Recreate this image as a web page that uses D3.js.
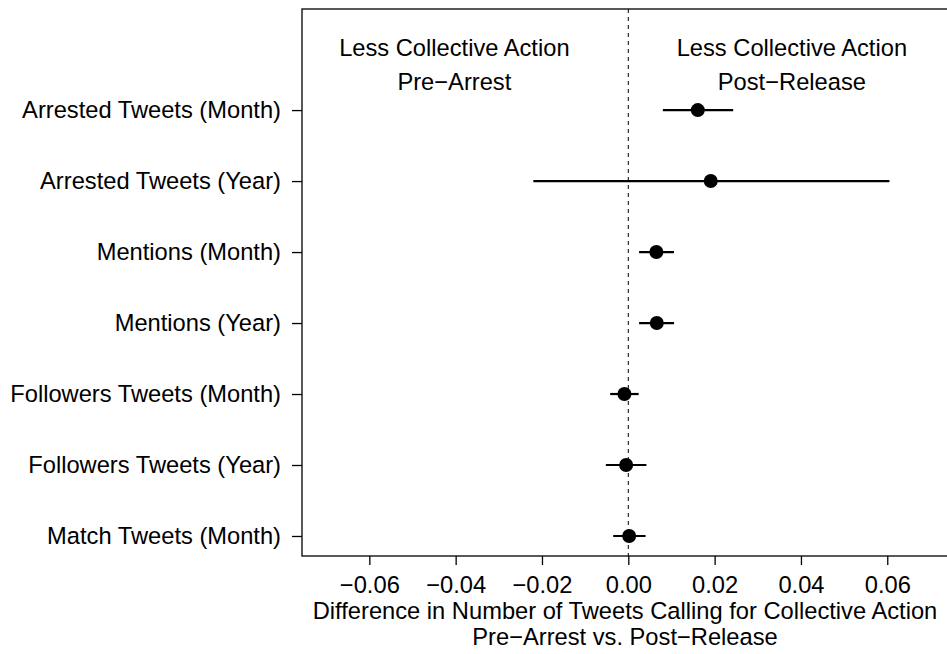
<!DOCTYPE html>
<html>
<head>
<meta charset="utf-8">
<script src="https://cdn.jsdelivr.net/npm/d3@7/dist/d3.min.js"></script>
<style>
  html, body { margin: 0; padding: 0; background: #fff; }
  svg { display: block; font-family: "Liberation Sans", Arial, Helvetica, sans-serif; }
</style>
</head>
<body>
<script>
const categories = [
  "Arrested Tweets (Month)",
  "Arrested Tweets (Year)",
  "Mentions (Month)",
  "Mentions (Year)",
  "Followers Tweets (Month)",
  "Followers Tweets (Year)",
  "Match Tweets (Month)"
];
const estimates = [0.0161, 0.0191, 0.0065, 0.0066, -0.0009, -0.0005, 0.0002];
const lower     = [0.0080, -0.0220, 0.0025, 0.0025, -0.0042, -0.0052, -0.0035];
const upper     = [0.0243, 0.0605, 0.0106, 0.0106, 0.0024, 0.0042, 0.0040];
const xTicks = [-0.06, -0.04, -0.02, 0.00, 0.02, 0.04, 0.06];
const xDomain = [-0.0756, 0.0756];
const yDomain = [-1.424, 6.282];
const annotations = [
  { x: -0.0403, lines: ["Less Collective Action", "Pre\u2212Arrest"] },
  { x: 0.0379, lines: ["Less Collective Action", "Post\u2212Release"] }
];
const xTitle = ["Difference in Number of Tweets Calling for Collective Action",
                "Pre\u2212Arrest vs. Post\u2212Release"];

(function () {
const W = 947, H = 654;
const pLeft = 302, pTop = 9, pBottom = 556;
const pRight = 954.6;
const fs = 23.7;

const svg = d3.select("body").append("svg").attr("width", W).attr("height", H);

const x = d3.scaleLinear().domain(xDomain).range([pLeft, pRight]);
const y = d3.scaleLinear().domain(yDomain).range([pTop, pBottom]);
const idx = categories.map((c, i) => i);

// box
svg.append("rect").attr("x", pLeft).attr("y", pTop)
  .attr("width", pRight - pLeft).attr("height", pBottom - pTop)
  .attr("fill", "none").attr("stroke", "#000").attr("stroke-width", 1.3);

// x axis
const xAxis = d3.axisBottom(x).tickValues(xTicks).tickSize(9).tickPadding(11)
  .tickFormat(d3.format(".2f"));
const gx = svg.append("g").attr("transform", `translate(0,${pBottom})`).call(xAxis);
gx.select(".domain").remove();
gx.selectAll(".tick line").attr("stroke", "#000").attr("stroke-width", 1.3);
gx.selectAll(".tick text").attr("font-size", fs).attr("font-family", null)
  .attr("fill", "#000").attr("dy", "0.71em");

// y axis
const yAxis = d3.axisLeft(y).tickValues(idx).tickFormat(i => categories[i])
  .tickSize(10).tickPadding(11);
const gy = svg.append("g").attr("transform", `translate(${pLeft},0)`).call(yAxis);
gy.select(".domain").remove();
gy.selectAll(".tick line").attr("stroke", "#000").attr("stroke-width", 1.3);
gy.selectAll(".tick text").attr("font-size", fs).attr("font-family", null)
  .attr("fill", "#000");

// zero line
svg.append("line").attr("x1", x(0)).attr("x2", x(0)).attr("y1", pTop).attr("y2", pBottom)
  .attr("stroke", "#000").attr("stroke-width", 1).attr("stroke-dasharray", "4,4");

// CIs
svg.append("g").selectAll("line").data(idx).join("line")
  .attr("x1", i => x(lower[i])).attr("x2", i => x(upper[i]))
  .attr("y1", i => y(i)).attr("y2", i => y(i))
  .attr("stroke", "#000").attr("stroke-width", 2.2);

// points
svg.append("g").selectAll("circle").data(idx).join("circle")
  .attr("cx", i => x(estimates[i])).attr("cy", i => y(i)).attr("r", 7)
  .attr("fill", "#000");

// annotations
annotations.forEach(a => {
  a.lines.forEach((t, j) => {
    svg.append("text").attr("x", x(a.x)).attr("y", 48 + j * 34).attr("dy", "0.35em")
      .attr("text-anchor", "middle").attr("font-size", fs).text(t);
  });
});

// x title
xTitle.forEach((t, j) => {
  svg.append("text").attr("x", 625).attr("y", 619 + j * 26)
    .attr("text-anchor", "middle").attr("font-size", fs).text(t);
});
})();
</script>
</body>
</html>
